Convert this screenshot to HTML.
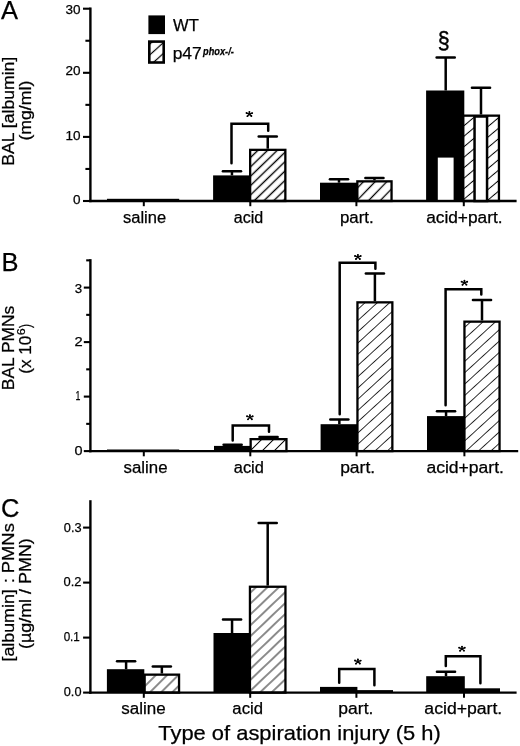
<!DOCTYPE html><html><head><meta charset="utf-8"><style>html,body{margin:0;padding:0;background:#fff;}svg{display:block;filter:grayscale(1);} text{stroke:#000;stroke-width:0.25px;}</style></head><body>
<svg width="520" height="746" viewBox="0 0 520 746" font-family='"Liberation Sans", sans-serif' fill="#000">
<defs><pattern id="pL" patternUnits="userSpaceOnUse" x="0.482" y="0" width="8.030" height="8.030" patternTransform="rotate(48.00)"><line x1="4.015" y1="-1" x2="4.015" y2="9.030" stroke="#000" stroke-width="1.2"/></pattern><pattern id="pAa" patternUnits="userSpaceOnUse" x="0.932" y="0" width="6.738" height="6.738" patternTransform="rotate(46.00)"><line x1="3.369" y1="-1" x2="3.369" y2="7.738" stroke="#000" stroke-width="1.4"/></pattern><pattern id="pAp" patternUnits="userSpaceOnUse" x="4.704" y="0" width="8.416" height="8.416" patternTransform="rotate(44.00)"><line x1="4.208" y1="-1" x2="4.208" y2="9.416" stroke="#000" stroke-width="1.3"/></pattern><pattern id="pAx" patternUnits="userSpaceOnUse" x="4.865" y="0" width="8.035" height="8.035" patternTransform="rotate(50.00)"><line x1="4.017" y1="-1" x2="4.017" y2="9.035" stroke="#000" stroke-width="1.0"/></pattern><pattern id="pBa" patternUnits="userSpaceOnUse" x="7.849" y="0" width="8.485" height="8.485" patternTransform="rotate(45.00)"><line x1="4.243" y1="-1" x2="4.243" y2="9.485" stroke="#000" stroke-width="1.0"/></pattern><pattern id="pBp" patternUnits="userSpaceOnUse" x="1.471" y="0" width="8.289" height="8.289" patternTransform="rotate(47.50)"><line x1="4.145" y1="-1" x2="4.145" y2="9.289" stroke="#000" stroke-width="0.8"/></pattern><pattern id="pBx" patternUnits="userSpaceOnUse" x="6.558" y="0" width="8.377" height="8.377" patternTransform="rotate(47.50)"><line x1="4.189" y1="-1" x2="4.189" y2="9.377" stroke="#000" stroke-width="0.8"/></pattern><pattern id="pCs" patternUnits="userSpaceOnUse" x="5.515" y="0" width="7.920" height="7.920" patternTransform="rotate(45.00)"><line x1="3.960" y1="-1" x2="3.960" y2="8.920" stroke="#000" stroke-width="0.9"/></pattern><pattern id="pCa" patternUnits="userSpaceOnUse" x="5.690" y="0" width="7.896" height="7.896" patternTransform="rotate(46.40)"><line x1="3.948" y1="-1" x2="3.948" y2="8.896" stroke="#000" stroke-width="0.9"/></pattern></defs>
<rect width="520" height="746" fill="#fff"/>
<text x="1.00" y="19.40" font-size="25.5" text-anchor="start" >A</text>
<text x="1.60" y="270.60" font-size="25.5" text-anchor="start" >B</text>
<text x="1.00" y="517.00" font-size="25.5" text-anchor="start" >C</text>
<line x1="90.40" y1="7.50" x2="90.40" y2="202.20" stroke="#000" stroke-width="2.4"/>
<line x1="89.20" y1="201.00" x2="516.60" y2="201.00" stroke="#000" stroke-width="2.4"/>
<line x1="83.00" y1="201.00" x2="90.40" y2="201.00" stroke="#000" stroke-width="2.1"/>
<line x1="83.00" y1="136.90" x2="90.40" y2="136.90" stroke="#000" stroke-width="2.1"/>
<line x1="83.00" y1="72.80" x2="90.40" y2="72.80" stroke="#000" stroke-width="2.1"/>
<line x1="83.00" y1="8.70" x2="90.40" y2="8.70" stroke="#000" stroke-width="2.1"/>
<line x1="85.40" y1="168.95" x2="90.40" y2="168.95" stroke="#000" stroke-width="2.1"/>
<line x1="85.40" y1="104.85" x2="90.40" y2="104.85" stroke="#000" stroke-width="2.1"/>
<line x1="85.40" y1="40.75" x2="90.40" y2="40.75" stroke="#000" stroke-width="2.1"/>
<text x="80.60" y="204.10" font-size="13.5" text-anchor="end" >0</text>
<text x="80.60" y="140.40" font-size="13.5" text-anchor="end" >10</text>
<text x="80.60" y="75.40" font-size="13.5" text-anchor="end" >20</text>
<text x="80.60" y="14.10" font-size="13.5" text-anchor="end" >30</text>
<line x1="143.80" y1="201.00" x2="143.80" y2="206.20" stroke="#000" stroke-width="2.0"/>
<line x1="250.30" y1="201.00" x2="250.30" y2="206.20" stroke="#000" stroke-width="2.0"/>
<line x1="356.40" y1="201.00" x2="356.40" y2="206.20" stroke="#000" stroke-width="2.0"/>
<line x1="463.80" y1="201.00" x2="463.80" y2="206.20" stroke="#000" stroke-width="2.0"/>
<text x="122.95" y="222.60" font-size="16" textLength="43.16" lengthAdjust="spacingAndGlyphs" >saline</text>
<text x="233.82" y="222.60" font-size="16" textLength="29.42" lengthAdjust="spacingAndGlyphs" >acid</text>
<text x="340.00" y="222.60" font-size="16" textLength="33.73" lengthAdjust="spacingAndGlyphs" >part.</text>
<text x="426.17" y="222.60" font-size="16" textLength="76.38" lengthAdjust="spacingAndGlyphs" >acid+part.</text>
<text transform="translate(14.20,165.75) rotate(-90)" x="0" y="0" font-size="16.5" textLength="109.01" lengthAdjust="spacingAndGlyphs" >BAL [albumin]</text>
<text transform="translate(30.80,140.61) rotate(-90)" x="0" y="0" font-size="16.5" textLength="59.92" lengthAdjust="spacingAndGlyphs" >(mg/ml)</text>
<rect x="148.40" y="15.40" width="16.60" height="18.70" fill="#000"/>
<rect x="149.3" y="41.6" width="14.4" height="20.9" fill="url(#pL)" stroke="#000" stroke-width="2.6"/>
<text x="173.02" y="31.30" font-size="16.8" textLength="25.75" lengthAdjust="spacingAndGlyphs" >WT</text>
<text x="172.67" y="59.10" font-size="17.0" textLength="29.13" lengthAdjust="spacingAndGlyphs" >p47</text>
<text x="203.11" y="54.70" font-size="10.2" textLength="30.65" lengthAdjust="spacingAndGlyphs" font-weight="bold" font-style="italic">phox-/-</text>
<rect x="107.00" y="198.80" width="72.20" height="2.20" fill="#000"/>
<rect x="213.10" y="175.40" width="36.70" height="25.60" fill="#000"/>
<line x1="231.95" y1="171.20" x2="231.95" y2="175.40" stroke="#000" stroke-width="2.5"/>
<line x1="222.90" y1="171.20" x2="241.00" y2="171.20" stroke="#000" stroke-width="2.5" stroke-linecap="round"/>
<rect x="250.15" y="149.85" width="35.20" height="51.15" fill="url(#pAa)" stroke="#000" stroke-width="2.3"/>
<line x1="267.75" y1="136.50" x2="267.75" y2="148.70" stroke="#000" stroke-width="2.5"/>
<line x1="258.70" y1="136.50" x2="276.80" y2="136.50" stroke="#000" stroke-width="2.5" stroke-linecap="round"/>
<polyline points="231.50,163.35 231.50,123.80 268.20,123.80 268.20,130.65" fill="none" stroke="#000" stroke-width="2.5" stroke-linecap="round" stroke-linejoin="miter"/>
<path d="M249.40,114.20L249.40,112.00M249.40,114.20L246.55,113.05M249.40,114.20L252.15,113.10M249.40,114.20L247.45,116.15M249.40,114.20L251.35,116.05" stroke="#000" stroke-width="1.3" stroke-linecap="round" fill="none"/>
<circle cx="249.40" cy="112.00" r="0.95"/>
<circle cx="246.55" cy="113.05" r="0.95"/>
<circle cx="252.15" cy="113.10" r="0.95"/>
<circle cx="247.45" cy="116.15" r="0.95"/>
<circle cx="251.35" cy="116.05" r="0.95"/>
<rect x="320.00" y="182.70" width="37.00" height="18.30" fill="#000"/>
<line x1="339.00" y1="179.20" x2="339.00" y2="182.70" stroke="#000" stroke-width="2.5"/>
<line x1="329.95" y1="179.20" x2="348.05" y2="179.20" stroke="#000" stroke-width="2.5" stroke-linecap="round"/>
<rect x="357.35" y="181.35" width="34.20" height="19.65" fill="url(#pAp)" stroke="#000" stroke-width="2.3"/>
<line x1="374.45" y1="178.00" x2="374.45" y2="180.20" stroke="#000" stroke-width="2.5"/>
<line x1="365.40" y1="178.00" x2="383.50" y2="178.00" stroke="#000" stroke-width="2.5" stroke-linecap="round"/>
<rect x="426.10" y="90.50" width="38.20" height="110.50" fill="#000"/>
<line x1="445.70" y1="57.60" x2="445.70" y2="90.50" stroke="#000" stroke-width="2.5"/>
<line x1="436.65" y1="57.60" x2="454.75" y2="57.60" stroke="#000" stroke-width="2.5" stroke-linecap="round"/>
<rect x="437.80" y="157.60" width="15.80" height="42.20" fill="#fff"/>
<rect x="463.05" y="115.65" width="35.90" height="85.35" fill="url(#pAx)" stroke="#000" stroke-width="2.3"/>
<line x1="481.00" y1="87.80" x2="481.00" y2="114.50" stroke="#000" stroke-width="2.5"/>
<line x1="471.95" y1="87.80" x2="490.05" y2="87.80" stroke="#000" stroke-width="2.5" stroke-linecap="round"/>
<rect x="474.55" y="116.5" width="12.5" height="84.50" fill="#fff" stroke="#000" stroke-width="2.5"/>
<text x="437.77" y="47.80" font-size="23.2" textLength="11.88" lengthAdjust="spacingAndGlyphs" style="stroke-width:0.45px">§</text>
<line x1="90.40" y1="259.15" x2="90.40" y2="452.30" stroke="#000" stroke-width="2.4"/>
<line x1="89.20" y1="451.10" x2="518.20" y2="451.10" stroke="#000" stroke-width="2.4"/>
<line x1="83.80" y1="451.10" x2="90.40" y2="451.10" stroke="#000" stroke-width="2.1"/>
<line x1="83.80" y1="396.60" x2="90.40" y2="396.60" stroke="#000" stroke-width="2.1"/>
<line x1="83.80" y1="342.10" x2="90.40" y2="342.10" stroke="#000" stroke-width="2.1"/>
<line x1="83.80" y1="287.60" x2="90.40" y2="287.60" stroke="#000" stroke-width="2.1"/>
<line x1="86.20" y1="423.85" x2="90.40" y2="423.85" stroke="#000" stroke-width="2.1"/>
<line x1="86.20" y1="369.35" x2="90.40" y2="369.35" stroke="#000" stroke-width="2.1"/>
<line x1="86.20" y1="314.85" x2="90.40" y2="314.85" stroke="#000" stroke-width="2.1"/>
<line x1="86.20" y1="260.35" x2="90.40" y2="260.35" stroke="#000" stroke-width="2.1"/>
<text x="74.52" y="454.70" font-size="13.5" textLength="8.04" lengthAdjust="spacingAndGlyphs" >0</text>
<text x="75.44" y="400.10" font-size="13.5" textLength="4.89" lengthAdjust="spacingAndGlyphs" >1</text>
<text x="74.46" y="345.80" font-size="13.5" textLength="8.19" lengthAdjust="spacingAndGlyphs" >2</text>
<text x="74.80" y="292.60" font-size="13.5" textLength="7.38" lengthAdjust="spacingAndGlyphs" >3</text>
<line x1="143.80" y1="451.10" x2="143.80" y2="456.30" stroke="#000" stroke-width="2.0"/>
<line x1="250.30" y1="451.10" x2="250.30" y2="456.30" stroke="#000" stroke-width="2.0"/>
<line x1="356.60" y1="451.10" x2="356.60" y2="456.30" stroke="#000" stroke-width="2.0"/>
<line x1="464.40" y1="451.10" x2="464.40" y2="456.30" stroke="#000" stroke-width="2.0"/>
<text x="123.54" y="472.90" font-size="16" textLength="43.98" lengthAdjust="spacingAndGlyphs" >saline</text>
<text x="233.80" y="472.90" font-size="16" textLength="30.05" lengthAdjust="spacingAndGlyphs" >acid</text>
<text x="340.17" y="472.90" font-size="16" textLength="34.92" lengthAdjust="spacingAndGlyphs" >part.</text>
<text x="426.45" y="472.90" font-size="16" textLength="77.52" lengthAdjust="spacingAndGlyphs" >acid+part.</text>
<text transform="translate(14.20,390.24) rotate(-90)" x="0" y="0" font-size="16.5" textLength="84.56" lengthAdjust="spacingAndGlyphs" >BAL PMNs</text>
<text transform="translate(30.80,373.77) rotate(-90)" x="0" y="0" font-size="16.5" textLength="38.02" lengthAdjust="spacingAndGlyphs" >(x 10</text>
<text transform="translate(24.90,335.23) rotate(-90)" x="0" y="0" font-size="10.5" textLength="6.97" lengthAdjust="spacingAndGlyphs" >6</text>
<text transform="translate(30.80,327.99) rotate(-90)" x="0" y="0" font-size="16.5" textLength="4.06" lengthAdjust="spacingAndGlyphs" >)</text>
<rect x="107.00" y="449.50" width="72.20" height="1.60" fill="#000"/>
<rect x="214.00" y="445.90" width="36.30" height="5.20" fill="#000"/>
<line x1="232.65" y1="444.70" x2="232.65" y2="445.90" stroke="#000" stroke-width="2.5"/>
<line x1="223.60" y1="444.70" x2="241.70" y2="444.70" stroke="#000" stroke-width="2.5" stroke-linecap="round"/>
<rect x="250.65" y="439.15" width="35.80" height="11.95" fill="url(#pBa)" stroke="#000" stroke-width="2.3"/>
<line x1="268.55" y1="437.00" x2="268.55" y2="438.00" stroke="#000" stroke-width="2.5"/>
<line x1="259.50" y1="437.00" x2="277.60" y2="437.00" stroke="#000" stroke-width="2.5" stroke-linecap="round"/>
<polyline points="232.70,440.45 232.70,425.50 269.00,425.50 269.00,431.85" fill="none" stroke="#000" stroke-width="2.5" stroke-linecap="round" stroke-linejoin="miter"/>
<path d="M249.90,417.40L249.90,415.20M249.90,417.40L247.05,416.25M249.90,417.40L252.65,416.30M249.90,417.40L247.95,419.35M249.90,417.40L251.85,419.25" stroke="#000" stroke-width="1.3" stroke-linecap="round" fill="none"/>
<circle cx="249.90" cy="415.20" r="0.95"/>
<circle cx="247.05" cy="416.25" r="0.95"/>
<circle cx="252.65" cy="416.30" r="0.95"/>
<circle cx="247.95" cy="419.35" r="0.95"/>
<circle cx="251.85" cy="419.25" r="0.95"/>
<rect x="320.60" y="424.20" width="36.50" height="26.90" fill="#000"/>
<line x1="339.35" y1="419.50" x2="339.35" y2="424.20" stroke="#000" stroke-width="2.5"/>
<line x1="330.30" y1="419.50" x2="348.40" y2="419.50" stroke="#000" stroke-width="2.5" stroke-linecap="round"/>
<rect x="357.45" y="302.35" width="34.90" height="148.75" fill="url(#pBp)" stroke="#000" stroke-width="2.3"/>
<line x1="374.90" y1="273.40" x2="374.90" y2="301.20" stroke="#000" stroke-width="2.5"/>
<line x1="365.85" y1="273.40" x2="383.95" y2="273.40" stroke="#000" stroke-width="2.5" stroke-linecap="round"/>
<polyline points="339.70,414.15 339.70,262.80 375.40,262.80 375.40,268.85" fill="none" stroke="#000" stroke-width="2.5" stroke-linecap="round" stroke-linejoin="miter"/>
<path d="M357.90,257.10L357.90,254.90M357.90,257.10L355.05,255.95M357.90,257.10L360.65,256.00M357.90,257.10L355.95,259.05M357.90,257.10L359.85,258.95" stroke="#000" stroke-width="1.3" stroke-linecap="round" fill="none"/>
<circle cx="357.90" cy="254.90" r="0.95"/>
<circle cx="355.05" cy="255.95" r="0.95"/>
<circle cx="360.65" cy="256.00" r="0.95"/>
<circle cx="355.95" cy="259.05" r="0.95"/>
<circle cx="359.85" cy="258.95" r="0.95"/>
<rect x="427.00" y="416.10" width="37.10" height="35.00" fill="#000"/>
<line x1="446.05" y1="411.30" x2="446.05" y2="416.10" stroke="#000" stroke-width="2.5"/>
<line x1="437.00" y1="411.30" x2="455.10" y2="411.30" stroke="#000" stroke-width="2.5" stroke-linecap="round"/>
<rect x="464.45" y="321.65" width="35.10" height="129.45" fill="url(#pBx)" stroke="#000" stroke-width="2.3"/>
<line x1="482.00" y1="300.00" x2="482.00" y2="320.50" stroke="#000" stroke-width="2.5"/>
<line x1="472.95" y1="300.00" x2="491.05" y2="300.00" stroke="#000" stroke-width="2.5" stroke-linecap="round"/>
<polyline points="445.60,405.15 445.60,289.20 481.30,289.20 481.30,294.55" fill="none" stroke="#000" stroke-width="2.5" stroke-linecap="round" stroke-linejoin="miter"/>
<path d="M464.45,282.80L464.45,280.60M464.45,282.80L461.60,281.65M464.45,282.80L467.20,281.70M464.45,282.80L462.50,284.75M464.45,282.80L466.40,284.65" stroke="#000" stroke-width="1.3" stroke-linecap="round" fill="none"/>
<circle cx="464.45" cy="280.60" r="0.95"/>
<circle cx="461.60" cy="281.65" r="0.95"/>
<circle cx="467.20" cy="281.70" r="0.95"/>
<circle cx="462.50" cy="284.75" r="0.95"/>
<circle cx="466.40" cy="284.65" r="0.95"/>
<line x1="90.40" y1="500.20" x2="90.40" y2="693.80" stroke="#000" stroke-width="2.4"/>
<line x1="89.20" y1="692.60" x2="516.60" y2="692.60" stroke="#000" stroke-width="2.4"/>
<line x1="83.10" y1="692.60" x2="90.40" y2="692.60" stroke="#000" stroke-width="2.1"/>
<line x1="83.10" y1="637.60" x2="90.40" y2="637.60" stroke="#000" stroke-width="2.1"/>
<line x1="83.10" y1="582.60" x2="90.40" y2="582.60" stroke="#000" stroke-width="2.1"/>
<line x1="83.10" y1="527.60" x2="90.40" y2="527.60" stroke="#000" stroke-width="2.1"/>
<text x="63.79" y="696.30" font-size="13.5" textLength="17.69" lengthAdjust="spacingAndGlyphs" >0.0</text>
<text x="63.63" y="641.00" font-size="13.5" textLength="16.22" lengthAdjust="spacingAndGlyphs" >0.1</text>
<text x="63.58" y="586.00" font-size="13.5" textLength="17.97" lengthAdjust="spacingAndGlyphs" >0.2</text>
<text x="63.79" y="532.20" font-size="13.5" textLength="17.76" lengthAdjust="spacingAndGlyphs" >0.3</text>
<line x1="143.80" y1="692.60" x2="143.80" y2="697.80" stroke="#000" stroke-width="2.0"/>
<line x1="250.20" y1="692.60" x2="250.20" y2="697.80" stroke="#000" stroke-width="2.0"/>
<line x1="356.40" y1="692.60" x2="356.40" y2="697.80" stroke="#000" stroke-width="2.0"/>
<line x1="464.00" y1="692.60" x2="464.00" y2="697.80" stroke="#000" stroke-width="2.0"/>
<text x="121.23" y="713.60" font-size="16" textLength="44.40" lengthAdjust="spacingAndGlyphs" >saline</text>
<text x="232.39" y="713.60" font-size="16" textLength="30.58" lengthAdjust="spacingAndGlyphs" >acid</text>
<text x="338.36" y="713.60" font-size="16" textLength="35.03" lengthAdjust="spacingAndGlyphs" >part.</text>
<text x="424.35" y="713.60" font-size="16" textLength="77.93" lengthAdjust="spacingAndGlyphs" >acid+part.</text>
<text transform="translate(14.20,661.49) rotate(-90)" x="0" y="0" font-size="16.5" textLength="72.24" lengthAdjust="spacingAndGlyphs" >[albumin]</text>
<text transform="translate(14.20,582.96) rotate(-90)" x="0" y="0" font-size="16.5" textLength="4.68" lengthAdjust="spacingAndGlyphs" >:</text>
<text transform="translate(14.20,573.22) rotate(-90)" x="0" y="0" font-size="16.5" textLength="50.05" lengthAdjust="spacingAndGlyphs" >PMNs</text>
<text transform="translate(30.80,649.02) rotate(-90)" x="0" y="0" font-size="16.5" textLength="110.83" lengthAdjust="spacingAndGlyphs" >(µg/ml / PMN)</text>
<rect x="106.90" y="669.20" width="37.40" height="23.40" fill="#000"/>
<line x1="126.10" y1="661.20" x2="126.10" y2="669.20" stroke="#000" stroke-width="2.5"/>
<line x1="117.05" y1="661.20" x2="135.15" y2="661.20" stroke="#000" stroke-width="2.5" stroke-linecap="round"/>
<rect x="144.65" y="674.65" width="34.40" height="17.95" fill="url(#pCs)" stroke="#000" stroke-width="2.3"/>
<line x1="161.85" y1="666.50" x2="161.85" y2="673.50" stroke="#000" stroke-width="2.5"/>
<line x1="152.80" y1="666.50" x2="170.90" y2="666.50" stroke="#000" stroke-width="2.5" stroke-linecap="round"/>
<rect x="213.50" y="633.00" width="36.10" height="59.60" fill="#000"/>
<line x1="232.05" y1="619.55" x2="232.05" y2="633.00" stroke="#000" stroke-width="2.5"/>
<line x1="223.00" y1="619.55" x2="241.10" y2="619.55" stroke="#000" stroke-width="2.5" stroke-linecap="round"/>
<rect x="249.95" y="586.75" width="35.50" height="105.85" fill="url(#pCa)" stroke="#000" stroke-width="2.3"/>
<line x1="267.70" y1="523.10" x2="267.70" y2="585.60" stroke="#000" stroke-width="2.5"/>
<line x1="258.65" y1="523.10" x2="276.75" y2="523.10" stroke="#000" stroke-width="2.5" stroke-linecap="round"/>
<rect x="320.00" y="686.90" width="37.40" height="5.70" fill="#000"/>
<rect x="356.40" y="690.10" width="36.60" height="2.50" fill="#000"/>
<polyline points="339.20,682.75 339.20,669.00 374.40,669.00 374.40,685.15" fill="none" stroke="#000" stroke-width="2.5" stroke-linecap="round" stroke-linejoin="miter"/>
<path d="M357.90,661.70L357.90,659.50M357.90,661.70L355.05,660.55M357.90,661.70L360.65,660.60M357.90,661.70L355.95,663.65M357.90,661.70L359.85,663.55" stroke="#000" stroke-width="1.3" stroke-linecap="round" fill="none"/>
<circle cx="357.90" cy="659.50" r="0.95"/>
<circle cx="355.05" cy="660.55" r="0.95"/>
<circle cx="360.65" cy="660.60" r="0.95"/>
<circle cx="355.95" cy="663.65" r="0.95"/>
<circle cx="359.85" cy="663.55" r="0.95"/>
<rect x="426.20" y="676.20" width="38.60" height="16.40" fill="#000"/>
<line x1="446.00" y1="671.70" x2="446.00" y2="676.20" stroke="#000" stroke-width="2.5"/>
<line x1="436.95" y1="671.70" x2="455.05" y2="671.70" stroke="#000" stroke-width="2.5" stroke-linecap="round"/>
<rect x="464.00" y="688.30" width="36.00" height="4.30" fill="#000"/>
<polyline points="445.80,665.95 445.80,656.20 480.40,656.20 480.40,683.35" fill="none" stroke="#000" stroke-width="2.5" stroke-linecap="round" stroke-linejoin="miter"/>
<path d="M462.00,648.80L462.00,646.60M462.00,648.80L459.15,647.65M462.00,648.80L464.75,647.70M462.00,648.80L460.05,650.75M462.00,648.80L463.95,650.65" stroke="#000" stroke-width="1.3" stroke-linecap="round" fill="none"/>
<circle cx="462.00" cy="646.60" r="0.95"/>
<circle cx="459.15" cy="647.65" r="0.95"/>
<circle cx="464.75" cy="647.70" r="0.95"/>
<circle cx="460.05" cy="650.75" r="0.95"/>
<circle cx="463.95" cy="650.65" r="0.95"/>
<text x="158.31" y="739.80" font-size="20.6" textLength="282.47" lengthAdjust="spacingAndGlyphs" >Type of aspiration injury (5 h)</text>
</svg></body></html>
